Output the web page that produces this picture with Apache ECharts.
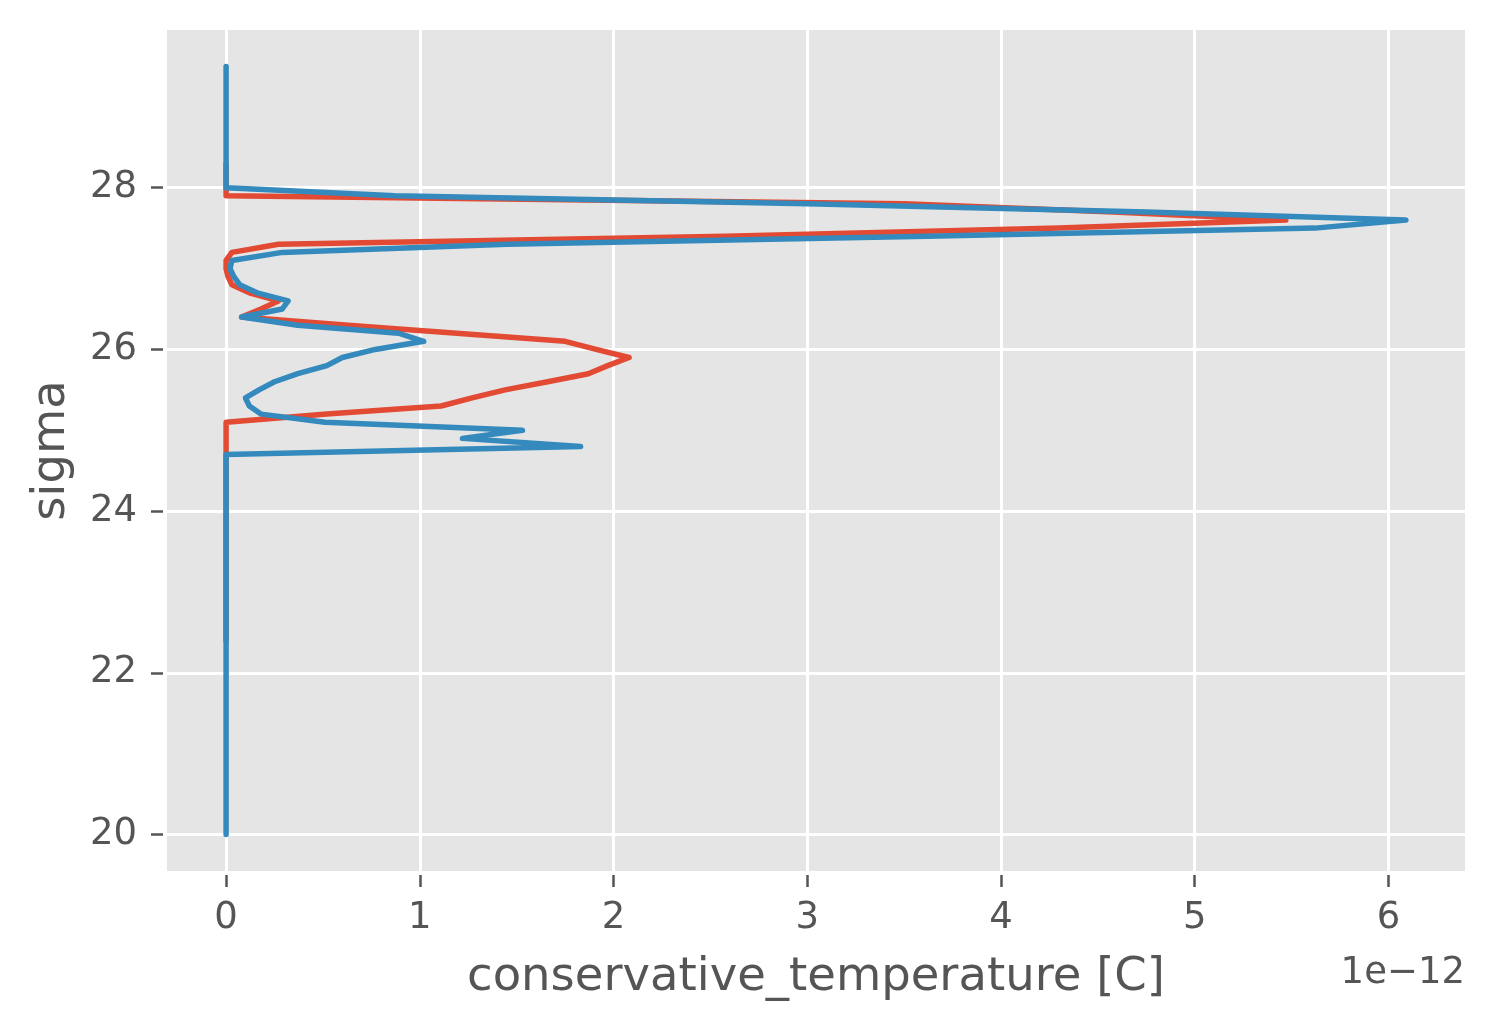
<!DOCTYPE html>
<html>
<head>
<meta charset="utf-8">
<title>conservative_temperature vs sigma</title>
<script src="https://cdn.jsdelivr.net/npm/echarts@6/dist/echarts.min.js"></script>
<style>
  html, body { margin: 0; padding: 0; background: #fff; }
  #main { width: 1495px; height: 1028px; }
</style>
</head>
<body>
<div id="main"></div>
<script>
// values in units of 1e-12 C, only the break points of each profile
const redSigma = [22.4, 25.1, 25.2, 25.3, 25.4, 25.5, 25.6, 25.7, 25.8, 25.9, 26.0, 26.1, 26.2, 26.3, 26.4, 26.5, 26.6, 26.7, 26.8, 26.9, 27.0, 27.1, 27.2, 27.3, 27.4, 27.5, 27.6, 27.7, 27.8, 27.9, 28.3];
const redTemp  = [0, 0, 0.52, 1.11, 1.27, 1.44, 1.66, 1.87, 1.97, 2.08, 1.91, 1.75, 1.19, 0.63, 0.08, 0.18, 0.27, 0.12, 0.03, 0.01, 0, 0, 0.03, 0.27, 2.58, 4.3, 5.47, 4.58, 3.5, 0, 0];

const blueSigma = [20.0, 24.7, 24.8, 24.9, 25.0, 25.1, 25.2, 25.3, 25.4, 25.5, 25.6, 25.7, 25.8, 25.9, 26.0, 26.1, 26.2, 26.3, 26.4, 26.5, 26.6, 26.7, 26.8, 26.9, 27.0, 27.1, 27.2, 27.3, 27.4, 27.5, 27.6, 27.7, 27.8, 27.9, 28.0, 29.5];
const blueTemp  = [0, 0, 1.83, 1.22, 1.53, 0.51, 0.18, 0.12, 0.10, 0.17, 0.25, 0.37, 0.52, 0.60, 0.77, 1.02, 0.89, 0.37, 0.08, 0.29, 0.32, 0.16, 0.07, 0.04, 0.02, 0.03, 0.29, 1.45, 3.62, 5.62, 6.09, 4.75, 3.0, 0.87, 0, 0];

const xTicks = [0, 1, 2, 3, 4, 5, 6];
const yTicks = [20, 22, 24, 26, 28];

const textColor = '#555555';
const font = 'DejaVu Sans';

function pairs(xs, ys) {
  return xs.map(function (x, i) { return [x, ys[i]]; });
}

const chart = echarts.init(document.getElementById('main'), null, { renderer: 'canvas' });

const option = {
  animation: false,
  backgroundColor: '#ffffff',
  textStyle: { fontFamily: font },
  grid: {
    left: 167, right: 30, top: 30, bottom: 157,
    show: true,
    backgroundColor: '#E5E5E5',
    borderWidth: 0
  },
  xAxis: {
    type: 'value',
    min: -0.305,
    max: 6.395,
    offset: 4,
    name: 'conservative_temperature [C]',
    nameLocation: 'middle',
    nameGap: 79,
    nameTextStyle: { color: textColor, fontSize: 46.5, fontFamily: font },
    axisLine: { show: false, onZero: false },
    axisTick: { show: true, length: 12, customValues: xTicks, lineStyle: { color: textColor, width: 2.5 } },
    axisLabel: {
      customValues: xTicks,
      color: textColor, fontSize: 37, fontFamily: font, margin: 25,
      formatter: function (v) { return String(v); }
    },
    splitLine: { show: true, lineStyle: { color: '#ffffff', width: 3 } }
  },
  yAxis: {
    type: 'value',
    min: 19.55,
    max: 29.95,
    offset: 4,
    name: 'sigma',
    nameLocation: 'middle',
    nameGap: 88,
    nameTextStyle: { color: textColor, fontSize: 46.5, fontFamily: font },
    axisLine: { show: false, onZero: false },
    axisTick: { show: true, length: 12, customValues: yTicks, lineStyle: { color: textColor, width: 2.5 } },
    axisLabel: {
      customValues: yTicks,
      color: textColor, fontSize: 37, fontFamily: font, margin: 26,
      formatter: function (v) { return String(v); }
    },
    splitLine: { show: true, lineStyle: { color: '#ffffff', width: 3 } }
  },
  graphic: [{
    type: 'text',
    right: 30,
    top: 955,
    style: { text: '1e\u221212', fill: textColor, font: '37px "DejaVu Sans"' }
  }],
  series: [
    {
      name: 'red',
      type: 'line',
      data: pairs(redTemp, redSigma),
      showSymbol: false,
      lineStyle: { color: '#E24A33', width: 5.5, cap: 'round', join: 'round' }
    },
    {
      name: 'blue',
      type: 'line',
      data: pairs(blueTemp, blueSigma),
      showSymbol: false,
      lineStyle: { color: '#348ABD', width: 5.5, cap: 'round', join: 'round' }
    }
  ]
};

chart.setOption(option);
</script>
</body>
</html>
